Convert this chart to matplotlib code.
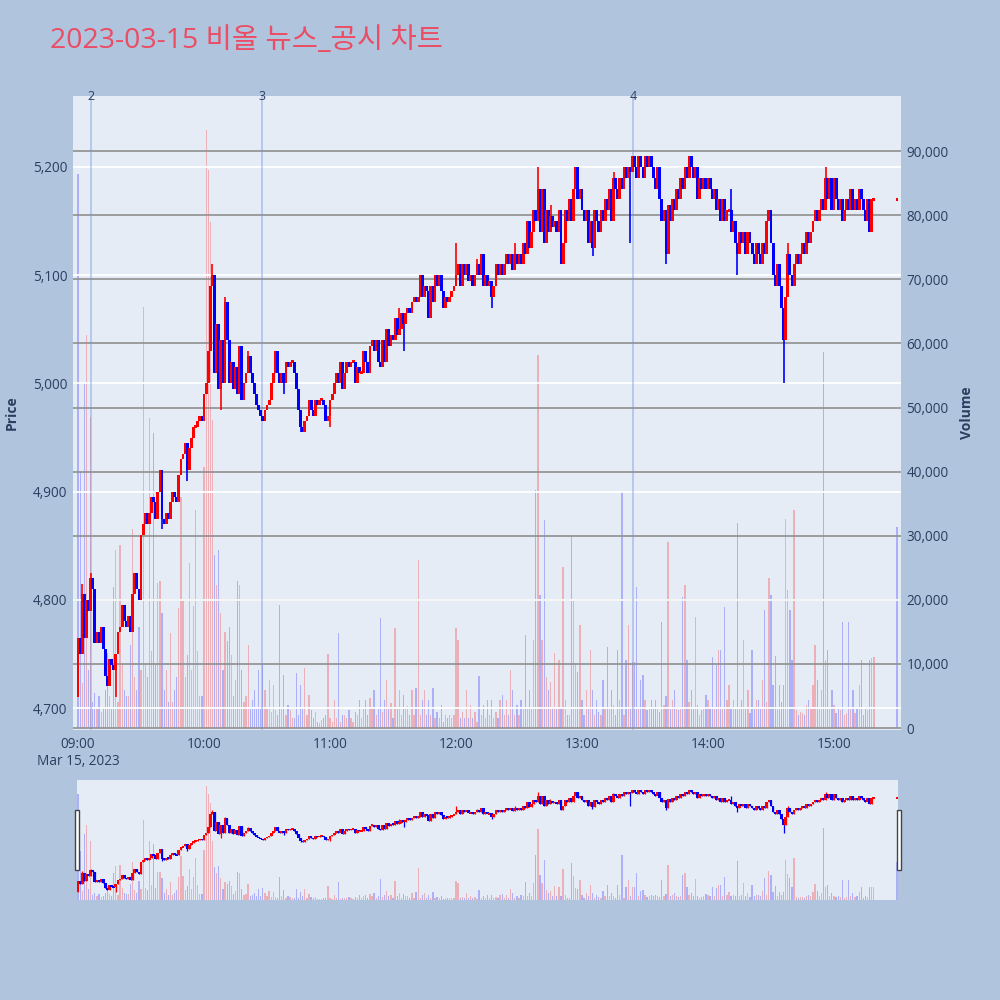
import matplotlib
matplotlib.use('Agg')
import matplotlib.pyplot as plt
import matplotlib.transforms as mtransforms
from matplotlib.patches import Rectangle
import numpy as np

plt.rcParams['font.family'] = ['Open Sans', 'Noto Sans CJK KR', 'DejaVu Sans']

# ---------------- data (minutes after 09:00) ----------------
first_open = 4710
close = [
    4765, 4750, 4805, 4765, 4800, 4790, 4820, 4810, 4760, 4770,
    4760, 4775, 4755, 4730, 4720, 4745, 4740, 4735, 4750, 4770,
    4775, 4795, 4780, 4775, 4785, 4770, 4805, 4825, 4810, 4800,
    4860, 4870, 4880, 4870, 4880, 4895, 4890, 4875, 4900, 4920,
    4875, 4870, 4880, 4875, 4890, 4900, 4895, 4890, 4915, 4930,
    4935, 4945, 4920, 4940, 4950, 4960, 4960, 4965, 4970, 4965,
    4990, 5000, 5030, 5090, 5100, 5010, 5055, 4995, 5040, 5000,
    5075, 5040, 5000, 5020, 4995, 5015, 4990, 5035, 4985, 5000,
    5010, 5025, 5010, 5000, 4990, 4980, 4975, 4970, 4965, 4975,
    4980, 4985, 5000, 5010, 5030, 5010, 5000, 5010, 5000, 5020,
    5015, 5020, 5020, 5010, 4995, 4975, 4960, 4955, 4965, 4970,
    4985, 4975, 4970, 4985, 4980, 4985, 4985, 4980, 4965, 4970,
    4985, 4990, 5000, 5010, 5000, 5020, 4995, 5010, 5020, 5015,
    5020, 5020, 5000, 5015, 5010, 5010, 5030, 5020, 5010, 5035,
    5040, 5030, 5040, 5020, 5015, 5040, 5020, 5050, 5035, 5045,
    5040, 5060, 5045, 5050, 5065, 5055, 5065, 5070, 5065, 5075,
    5080, 5075, 5080, 5100, 5080, 5090, 5085, 5060, 5090, 5075,
    5100, 5090, 5100, 5085, 5070, 5080, 5075, 5080, 5085, 5090,
    5100, 5110, 5090, 5110, 5100, 5110, 5095, 5100, 5090, 5100,
    5110, 5100, 5120, 5090, 5100, 5090, 5095, 5080, 5090, 5110,
    5100, 5110, 5100, 5110, 5120, 5110, 5120, 5105, 5120, 5110,
    5120, 5110, 5130, 5120, 5150, 5125, 5140, 5160, 5150, 5180,
    5140, 5180, 5130, 5160, 5140, 5155, 5145, 5150, 5140, 5160,
    5110, 5130, 5160, 5150, 5170, 5150, 5180, 5200, 5170, 5180,
    5160, 5150, 5160, 5130, 5150, 5125, 5160, 5150, 5140, 5160,
    5150, 5170, 5160, 5180, 5150, 5190, 5180, 5170, 5190, 5180,
    5200, 5190, 5200, 5195, 5210, 5200, 5190, 5210, 5200, 5190,
    5210, 5200, 5210, 5200, 5190, 5180, 5200, 5170, 5150, 5160,
    5120, 5165, 5150, 5170, 5160, 5180, 5170, 5190, 5180, 5200,
    5190, 5210, 5200, 5190, 5200, 5170, 5190, 5180, 5190, 5180,
    5190, 5180, 5170, 5180, 5160, 5170, 5150, 5170, 5150, 5160,
    5160, 5140, 5150, 5130, 5120, 5140, 5130, 5140, 5120, 5140,
    5130, 5120, 5110, 5130, 5120, 5110, 5130, 5120, 5150, 5160,
    5130, 5100, 5090, 5110, 5090, 5070, 5040, 5080, 5120, 5100,
    5090, 5110, 5120, 5110, 5120, 5130, 5120, 5140, 5130, 5140,
    5150, 5160, 5150, 5160, 5170, 5160, 5190, 5170, 5190, 5160,
    5190, 5170, 5160, 5170, 5150, 5160, 5170, 5160, 5180, 5160,
    5170, 5160, 5180, 5170, 5160, 5150, 5170, 5140, 5170, 5170,
]
wick_high = {2: 4815, 6: 4825, 64: 5110, 70: 5080, 81: 5030, 153: 5070,
             180: 5130, 190: 5115, 208: 5130, 219: 5200, 225: 5165,
             237: 5200, 255: 5195, 311: 5180, 338: 5130, 356: 5200}
wick_low = {0: 4710, 18: 4710, 40: 4865, 52: 4910, 68: 4975, 98: 4990,
            106: 4955, 120: 4960, 155: 5030, 197: 5070, 230: 5110,
            245: 5118, 263: 5130, 280: 5110, 314: 5100, 336: 5000}
volume = [
    86500, 40000, 7000, 54000, 61300, 9000, 48500, 4000, 5500, 3000,
    5000, 2500, 3000, 6000, 11700, 5000, 3000, 22000, 27800, 4000,
    28500, 10000, 6000, 5000, 5000, 13000, 31000, 8000, 6000, 15800,
    9000, 65700, 10000, 8000, 48400, 12000, 46000, 10000, 22600, 23000,
    18000, 6000, 9000, 4000, 14800, 4000, 6000, 8000, 18700, 36000,
    20000, 8000, 11400, 25700, 9000, 19000, 34000, 12000, 5000, 5000,
    40700, 93300, 87000, 79000, 48000, 27000, 22300, 27800, 18000, 9000,
    15000, 13500, 15700, 11400, 5000, 7500, 23000, 22300, 9000, 4000,
    5000, 13000, 3000, 4400, 6000, 3000, 9000, 3000, 10000, 6000,
    3000, 7500, 2500, 6700, 2800, 2000, 19200, 3000, 8300, 2000,
    3600, 2800, 1500, 1500, 8600, 2000, 6700, 3000, 9400, 2000,
    5200, 2800, 1500, 2500, 1000, 800, 1200, 1500, 2000, 11500,
    1500, 1000, 4400, 1500, 14800, 1000, 2000, 2000, 1500, 2800,
    1500, 1000, 2500, 2000, 4400, 1500, 3000, 4400, 2000, 4700,
    3000, 6000, 2000, 3000, 17200, 2500, 4400, 7500, 3000, 3900,
    1500, 15600, 3000, 6000, 2000, 5200, 3000, 3400, 2000, 6000,
    2000, 6200, 26200, 2000, 4400, 6000, 2000, 4400, 2000, 6200,
    1500, 2500, 1500, 3600, 1000, 2000, 1500, 2000, 1500, 2000,
    15600, 13700, 1500, 2500, 1500, 6000, 1500, 3600, 1500, 2500,
    1000, 8100, 2000, 3600, 1500, 4400, 2000, 4400, 1500, 2500,
    1500, 4400, 5200, 2000, 4400, 2000, 9000, 6000, 2000, 3600,
    2000, 4400, 3000, 14500, 3000, 6000, 3000, 13700, 37100, 58200,
    20700, 13700, 32400, 8000, 6000, 7200, 3000, 11700, 3000, 10600,
    3000, 25100, 4400, 2000, 2000, 30000, 20000, 10000, 8700, 16000,
    4400, 2000, 6000, 3000, 12200, 6000, 2000, 4400, 2500, 2000,
    7500, 3000, 12600, 3000, 6000, 3600, 2000, 12200, 4400, 36800,
    2000, 10600, 16000, 3000, 10300, 10300, 22000, 3000, 7500, 8300,
    4400, 2800, 3000, 4400, 3000, 4400, 3000, 2500, 16500, 3600,
    5000, 29000, 3000, 4400, 6000, 3000, 2800, 3000, 20400, 22300,
    10600, 4000, 6000, 3000, 17300, 3600, 2000, 2800, 3000, 5200,
    4400, 3000, 11000, 3000, 9800, 12200, 12200, 3000, 18900, 4400,
    6700, 3000, 4400, 3000, 32000, 3000, 4400, 13700, 3000, 6000,
    2300, 12200, 3000, 4400, 4400, 3000, 7500, 18400, 4000, 23400,
    20700, 6700, 11300, 3000, 6700, 4000, 6700, 32600, 21500, 18400,
    10600, 34000, 2800, 2000, 2500, 2300, 2000, 3600, 4400, 3000,
    6700, 13000, 7500, 3000, 6000, 58700, 10600, 12200, 3000, 6000,
    3600, 2300, 3000, 2800, 16500, 2000, 2300, 16500, 3000, 6000,
    2300, 3000, 6700, 10600, 2000, 3000, 2800, 10600, 10900, 11000,
]
auction_minute = 390          # 15:30 closing auction
auction_price = 5170
auction_volume = 31400

news_minutes = [6.2, 87.6, 264.3]
news_labels = ['2', '3', '4']
price_ticks = [4700, 4800, 4900, 5000, 5100, 5200]
volume_ticks = list(range(0, 90001, 10000))
time_ticks = [0, 60, 120, 180, 240, 300, 360]
time_labels = ['09:00\nMar 15, 2023', '10:00', '11:00', '12:00', '13:00', '14:00', '15:00']
title = '2023-03-15 비올 뉴스_공시 차트'

# ---------------- derived OHLC ----------------
n = len(close)
x = np.append(np.arange(n), auction_minute).astype(float)
c = np.append(np.array(close, float), auction_price)
o = np.append(np.array([first_open] + close[:-1], float), auction_price)
h = np.maximum(o, c)
l = np.minimum(o, c)
for k, v in wick_high.items():
    h[k] = max(h[k], v)
for k, v in wick_low.items():
    l[k] = min(l[k], v)
vol = np.append(np.array(volume, float), auction_volume)
up = c >= o
RED = (1.0, 0.0, 0.0, 1.0)
BLUE = (0.0, 0.0, 1.0, 1.0)
cols = [RED if u else BLUE for u in up]
vcols = list(cols)
vcols[0] = BLUE
vcols[-1] = BLUE

FIG_BG = '#B0C4DE'
PLOT_BG = '#E5ECF6'
TXT = '#2a3f5f'

fig = plt.figure(figsize=(10, 10), dpi=100, facecolor=FIG_BG)

PRICE_LIM = (4679.7, 5265.6)
VOL_LIM = (-312, 98600)
XLIM = (-2.4, 391.9)


def draw(ax_v, ax_p, body_w, min_h, wick_lw, vol_w):
    ax_v.bar(x, vol, width=vol_w, color=vcols, alpha=0.25, linewidth=0, zorder=2)
    ax_p.vlines(x, l, h, colors=cols, linewidth=wick_lw, zorder=3)
    body_lo = np.minimum(o, c)
    body_h = np.abs(c - o)
    flat = body_h < min_h
    body_lo = np.where(flat, (o + c) / 2 - min_h / 2, body_lo)
    body_h = np.where(flat, min_h, body_h)
    ax_p.bar(x, body_h, bottom=body_lo, width=body_w, color=cols,
             linewidth=0, zorder=4)


# ---------------- main chart ----------------
ax_v = fig.add_axes([0.073, 0.27, 0.828, 0.634])
ax_v.set_facecolor(PLOT_BG)
ax_p = ax_v.twinx()
ax_p.patch.set_visible(False)
for a in (ax_v, ax_p):
    for s in a.spines.values():
        s.set_visible(False)
    a.set_xlim(*XLIM)

ax_v.set_ylim(*VOL_LIM)
ax_p.set_ylim(*PRICE_LIM)

for vt in volume_ticks:
    ax_v.axhline(vt, color='#8f8f8f', linewidth=1.2, zorder=3)
for pt in price_ticks:
    ax_p.axhline(pt, color='white', linewidth=1.3, zorder=0.5)

draw(ax_v, ax_p, body_w=1.35, min_h=2.5, wick_lw=1.2, vol_w=0.6)

for m, lab in zip(news_minutes, news_labels):
    ax_p.axvline(m, color='#6f8fe0', alpha=0.5, linewidth=1.1, zorder=1)
    ax_p.text(m, 1.0, lab, transform=mtransforms.blended_transform_factory(ax_p.transData, ax_p.transAxes),
              ha='center', va='center', color=TXT, fontsize=9, zorder=5)

ax_v.yaxis.tick_right()
ax_v.yaxis.set_label_position('right')
ax_v.set_yticks(volume_ticks)
ax_v.set_yticklabels([f'{v:,}' for v in volume_ticks])
ax_p.yaxis.tick_left()
ax_p.yaxis.set_label_position('left')
ax_p.set_yticks(price_ticks)
ax_p.set_yticklabels([f'{v:,}' for v in price_ticks])
ax_v.set_xticks(time_ticks)
ax_v.set_xticklabels(time_labels)
for a in (ax_v, ax_p):
    a.tick_params(axis='both', length=0, colors=TXT, labelsize=9.8, pad=4)
ax_v.tick_params(axis='x', pad=5)
ax_p.set_ylabel('Price', color=TXT, fontsize=10, fontweight='bold', labelpad=10)
ax_v.set_ylabel('Volume', color=TXT, fontsize=10, fontweight='bold', labelpad=8)

# ---------------- range slider ----------------
rs_v = fig.add_axes([0.077, 0.10, 0.821, 0.12])
rs_v.set_facecolor(PLOT_BG)
rs_p = rs_v.twinx()
rs_p.patch.set_visible(False)
for a in (rs_v, rs_p):
    for s in a.spines.values():
        s.set_visible(False)
    a.set_xlim(-0.5, 390.5)
    a.set_yticks([])
rs_v.set_xticks([])
rs_v.set_ylim(0, 98200)
rs_p.set_ylim(4673, 5258)
draw(rs_v, rs_p, body_w=1.3, min_h=8, wick_lw=0.9, vol_w=0.6)

for hx in (0.0745, 0.8965):
    fig.patches.append(Rectangle((hx, 0.13), 0.004, 0.06, transform=fig.transFigure,
                                 facecolor='white', edgecolor='#444444', linewidth=1.0, zorder=10))

# ---------------- title ----------------
fig.text(0.05, 0.959, title, color='#EA4D64', fontsize=20.5, ha='left', va='center')

fig.savefig('out.png', dpi=100, facecolor=FIG_BG)
